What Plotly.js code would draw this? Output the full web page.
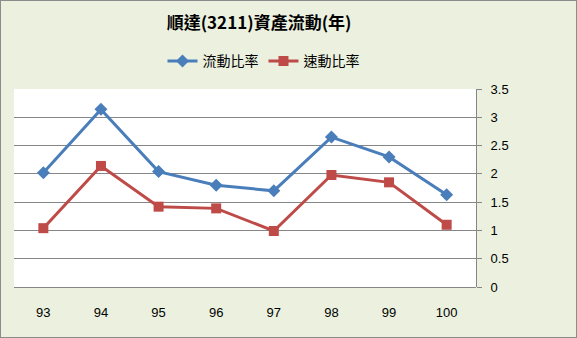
<!DOCTYPE html>
<html>
<head>
<meta charset="utf-8">
<script src="https://cdn.plot.ly/plotly-3.0.1.min.js"></script>
<style>
html,body{margin:0;padding:0;background:#EBF1DE;}
#wrap{position:relative;width:577px;height:338px;}
#chart{position:absolute;left:0;top:0;width:577px;height:338px;}
#border{position:absolute;left:0;top:0;width:575px;height:336px;border:1px solid #8C8C8C;pointer-events:none;}
</style>
</head>
<body>
<div id="wrap"><div id="chart"></div><div id="border"></div></div>
<script>
const years = ['93','94','95','96','97','98','99','100'];
const currentRatio = [2.02, 3.14, 2.04, 1.80, 1.70, 2.65, 2.30, 1.63];
const quickRatio = [1.04, 2.14, 1.42, 1.39, 0.99, 1.98, 1.85, 1.10];
const seriesNames = ['流動比率', '速動比率'];
const titleText = '順達(3211)資產流動(年)';

const traces = [
  {x: years, y: currentRatio, name: seriesNames[0], type: 'scatter', mode: 'lines+markers',
   line: {color: '#4A7EBB', width: 3}, marker: {symbol: 'diamond', size: 10, color: '#4A7EBB'}},
  {x: years, y: quickRatio, name: seriesNames[1], type: 'scatter', mode: 'lines+markers',
   line: {color: '#BE4B48', width: 3}, marker: {symbol: 'square', size: 10, color: '#BE4B48'}}
];

const layout = {
  width: 577, height: 338,
  margin: {l: 14, r: 101, t: 89, b: 51},
  paper_bgcolor: 'rgba(0,0,0,0)',
  plot_bgcolor: '#FFFFFF',
  font: {family: '"Noto Sans CJK TC", "Liberation Sans", sans-serif', color: '#000'},
  title: {text: '<b>' + titleText + '</b>', font: {size: 17, family: '"Noto Sans CJK TC", sans-serif', color: '#000'},
          x: 0.449, xref: 'container', xanchor: 'center', y: 0.932, yref: 'container', yanchor: 'middle'},
  showlegend: true,
  legend: {orientation: 'h', x: 0.54, xanchor: 'center', y: 1.14, yanchor: 'middle',
           font: {size: 14, family: '"Noto Sans CJK TC", sans-serif'}, bgcolor: 'rgba(0,0,0,0)',
           itemwidth: 30, tracegroupgap: 0},
  xaxis: {type: 'category', showgrid: false, zeroline: false, showline: false, ticks: '',
          tickfont: {size: 13, family: '"Liberation Sans", "DejaVu Sans", sans-serif'},
          ticklabelstandoff: 16, fixedrange: true},
  yaxis: {side: 'right', range: [0, 3.5], dtick: 0.5, showgrid: true, gridcolor: '#868686', gridwidth: 1,
          zeroline: true, zerolinecolor: '#868686', zerolinewidth: 1,
          showline: true, linecolor: '#868686', linewidth: 1, ticks: 'outside', ticklen: 5, tickcolor: '#868686',
          tickfont: {size: 13, family: '"Liberation Sans", "DejaVu Sans", sans-serif'},
          ticklabelstandoff: 6, fixedrange: true}
};

Plotly.newPlot('chart', traces, layout, {displayModeBar: false, staticPlot: true});
</script>
</body>
</html>
